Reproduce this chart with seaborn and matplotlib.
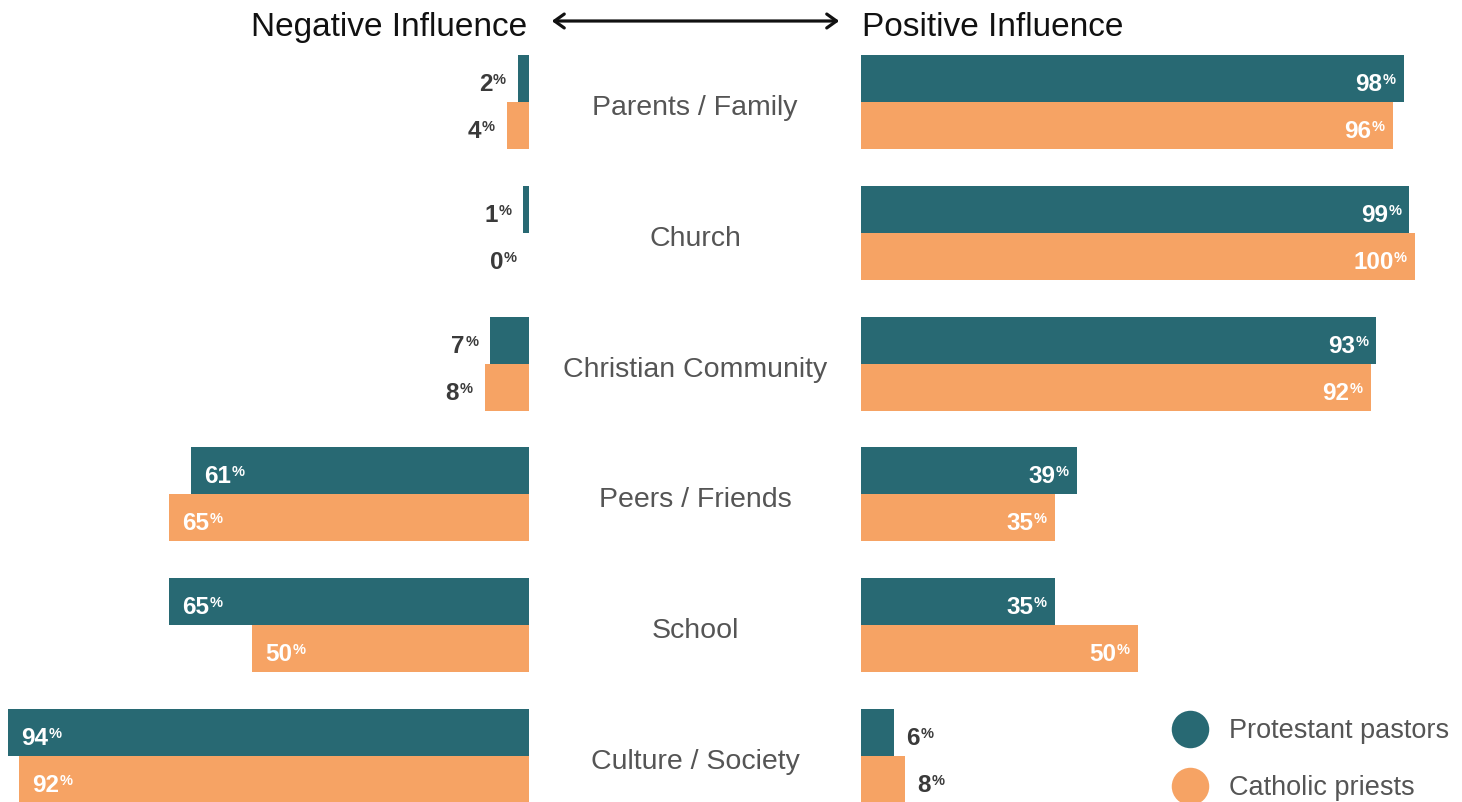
import pandas as pd
import matplotlib
matplotlib.use("Agg")
import matplotlib.pyplot as plt
import seaborn as sns
from matplotlib.lines import Line2D
from matplotlib.patches import FancyArrowPatch
from matplotlib import transforms

# ---- data -------------------------------------------------------------
categories = ["Parents / Family", "Church", "Christian Community",
              "Peers / Friends", "School", "Culture / Society"]
groups = ["Protestant pastors", "Catholic priests"]
negative_protestant = [2, 1, 7, 61, 65, 94]
negative_catholic = [4, 0, 8, 65, 50, 92]
positive_protestant = [98, 99, 93, 39, 35, 6]
positive_catholic = [96, 100, 92, 35, 50, 8]

TEAL = "#286973"
ORANGE = "#F6A364"
palette = {groups[0]: TEAL, groups[1]: ORANGE}

df = pd.DataFrame({
    "category": categories * 2,
    "group": [groups[0]] * len(categories) + [groups[1]] * len(categories),
    "negative": negative_protestant + negative_catholic,
    "positive": positive_protestant + positive_catholic,
})

sns.set_theme(style="white")
plt.rcParams["font.family"] = ["Liberation Sans", "DejaVu Sans"]

# ---- layout -----------------------------------------------------------
W, H, DPI = 1462, 802, 100
fig = plt.figure(figsize=(W / DPI, H / DPI), dpi=DPI)
fig.patch.set_facecolor("white")

PX_PER_PCT = 5.54      # horizontal scale shared by both panels
ROW_PX = 130.8         # distance between category rows
FIRST_ROW_PX = 102     # centre of the first category row
LEFT_ZERO = 529        # baseline of the negative panel
RIGHT_ZERO = 861       # baseline of the positive panel

axL = fig.add_axes([0, 0, LEFT_ZERO / W, 1])
axR = fig.add_axes([RIGHT_ZERO / W, 0, (W - RIGHT_ZERO) / W, 1])

y_top = -FIRST_ROW_PX / ROW_PX
y_bottom = (H - FIRST_ROW_PX) / ROW_PX

for ax, col in ((axL, "negative"), (axR, "positive")):
    sns.barplot(data=df, x=col, y="category", hue="group",
                order=categories, hue_order=groups, palette=palette,
                orient="h", width=0.72, gap=0, saturation=1,
                linewidth=0, errorbar=None, legend=False, ax=ax)
    ax.set_ylim(y_bottom, y_top)
    ax.set_axis_off()

axL.set_xlim(LEFT_ZERO / PX_PER_PCT, 0)
axR.set_xlim(0, (W - RIGHT_ZERO) / PX_PER_PCT)

# ---- value labels -----------------------------------------------------
NUM_SIZE = 17.5
PCT_SIZE = 10.5
INSIDE_MIN = 15
PCT_GAP = 0.5

probe = fig.text(0, 0, "%", fontsize=PCT_SIZE, fontweight="bold")
renderer = fig.canvas.get_renderer()
pct_w = probe.get_window_extent(renderer).width
probe.remove()


def add_label(ax, bar, value, grows_right):
    y = bar.get_y() + bar.get_height() / 2
    inside = value >= INSIDE_MIN
    color = "white" if inside else "#3a3a3a"
    right_aligned = (inside and grows_right) or (not inside and not grows_right)
    if right_aligned:
        pad = 8 if inside else 12
        dx, ha = -(pad + pct_w + PCT_GAP), "right"
    else:
        pad = 13 if inside else 12
        dx, ha = pad, "left"
    num = ax.annotate(f"{value}", xy=(value, y), xycoords="data",
                      xytext=(dx, -12.5), textcoords="offset pixels",
                      ha=ha, va="baseline", fontsize=NUM_SIZE,
                      fontweight="bold", color=color, annotation_clip=False)
    ax.annotate("%", xy=(1, 1), xycoords=num, xytext=(PCT_GAP, 0),
                textcoords="offset pixels", ha="left", va="top",
                fontsize=PCT_SIZE, fontweight="bold", color=color)


for ax, series, grows_right in (
        (axL, (negative_protestant, negative_catholic), False),
        (axR, (positive_protestant, positive_catholic), True)):
    for container, values in zip(ax.containers, series):
        for bar, v in zip(container, values):
            add_label(ax, bar, v, grows_right)

# ---- category names between the panels ---------------------------------
mid = transforms.blended_transform_factory(fig.transFigure, axR.transData)
for i, cat in enumerate(categories):
    axR.text(695 / W, i + 0.1, cat, transform=mid, ha="center",
             va="baseline", fontsize=20.5, color="#555555", clip_on=False)

# ---- headers and arrow -------------------------------------------------
fig.text(527 / W, 1 - 36 / H, "Negative Influence", ha="right",
         va="baseline", fontsize=24, color="#111111")
fig.text(862 / W, 1 - 36 / H, "Positive Influence", ha="left",
         va="baseline", fontsize=24, color="#111111")
fig.add_artist(FancyArrowPatch(
    (549 / W, 1 - 21 / H), (842 / W, 1 - 21 / H),
    transform=fig.transFigure,
    arrowstyle="<->,head_length=0.35,head_width=0.25",
    mutation_scale=20, lw=2.3, color="#111111"))

# ---- legend ------------------------------------------------------------
handles = [Line2D([], [], marker="o", linestyle="none", markersize=27,
                  markerfacecolor=palette[g], markeredgewidth=0)
           for g in groups]
axR.legend(handles, groups, loc="upper left",
           bbox_to_anchor=((1189 - 13) / W, 1 - 718 / H),
           bbox_transform=fig.transFigure, frameon=False, fontsize=19.5,
           handlelength=1.0, handletextpad=0.95, labelspacing=1.15,
           borderpad=0, borderaxespad=0, labelcolor="#555555")

fig.savefig("out.png", dpi=DPI, facecolor="white")
